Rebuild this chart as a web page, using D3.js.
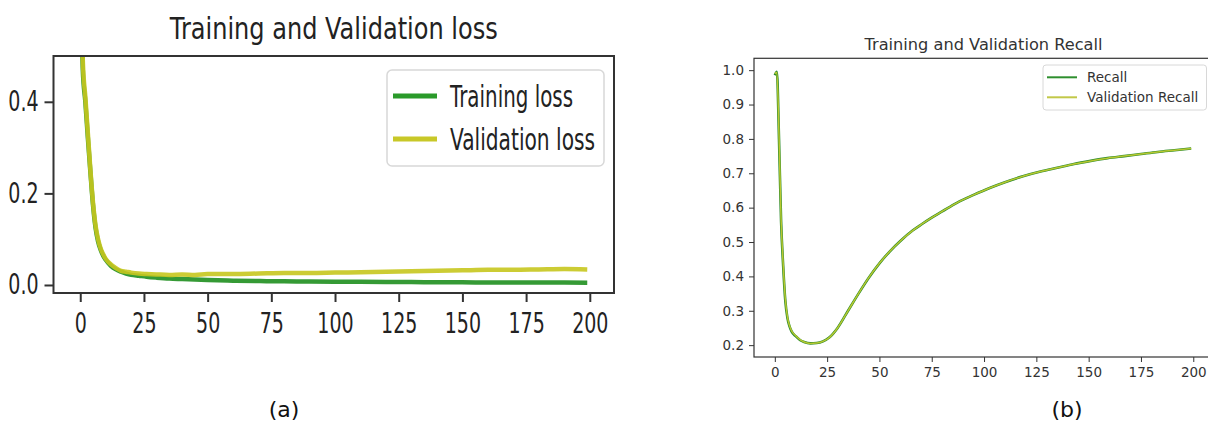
<html lang="en">
<head>
  <script src="https://d3js.org/d3.v7.min.js"></script>
  <style>
    body { margin: 0; background: white; }
    text { font-family: "DejaVu Sans", sans-serif; }
  </style>
</head>
<body>
  <svg id="fig" width="1208" height="425" style="background: white"></svg>
  <script>
    // loss chart (a)
    const lossEpochs = [0,1,2,3,4,5,6,7,8,9,10,12,14,16,18,20,23,26,30,35,40,45,50,60,70,80,90,100,110,120,130,140,150,160,170,180,190,199];
    const trainLoss  = [0.80,0.47,0.40,0.32,0.245,0.175,0.125,0.095,0.077,0.064,0.055,0.042,0.034,0.029,0.025,0.022,0.020,0.018,0.016,0.014,0.013,0.012,0.011,0.0095,0.0085,0.008,0.0075,0.007,0.0068,0.0065,0.0063,0.006,0.0058,0.0056,0.0055,0.0053,0.0052,0.005];
    const valLoss    = [0.78,0.49,0.41,0.33,0.25,0.18,0.13,0.10,0.08,0.067,0.057,0.045,0.037,0.031,0.029,0.027,0.025,0.024,0.023,0.022,0.023,0.022,0.024,0.024,0.025,0.026,0.026,0.027,0.028,0.029,0.030,0.031,0.032,0.033,0.033,0.034,0.035,0.034];
    const lossXTicks = [0,25,50,75,100,125,150,175,200];
    const lossYTicks = [0.0,0.2,0.4];

    // recall chart (b)
    const recallEpochs = [0,1,2,3,4,5,6,7,8,10,12,14,17,20,23,26,30,35,40,45,50,55,60,66,70,75,80,87,95,103,110,119,127,135,143,151,159,167,175,183,191,199];
    const recall       = [0.985,0.995,0.80,0.56,0.43,0.33,0.28,0.255,0.24,0.226,0.215,0.209,0.205,0.206,0.211,0.222,0.25,0.30,0.35,0.397,0.438,0.473,0.503,0.534,0.551,0.571,0.589,0.614,0.637,0.658,0.674,0.692,0.705,0.716,0.727,0.736,0.744,0.750,0.756,0.762,0.767,0.772];
    const valRecall    = [0.99,0.993,0.81,0.565,0.435,0.335,0.283,0.257,0.242,0.227,0.216,0.209,0.205,0.206,0.211,0.222,0.25,0.30,0.35,0.397,0.438,0.473,0.503,0.534,0.551,0.571,0.589,0.614,0.637,0.658,0.674,0.692,0.705,0.716,0.727,0.736,0.744,0.750,0.756,0.762,0.767,0.772];
    const recallXTicks = [0,25,50,75,100,125,150,175,200];
    const recallYTicks = [0.2,0.3,0.4,0.5,0.6,0.7,0.8,0.9,1.0];

    const svg = d3.select("#fig");

    // ---------- (a) ----------
    const a = { left: 53.5, right: 614, top: 56, bottom: 293 };
    const ax = d3.scaleLinear().domain([-10.5, 209.5]).range([a.left, a.right]);
    const ay = d3.scaleLinear().domain([-0.0175, 0.5]).range([a.bottom, a.top]);
    const squeeze = 0.68;

    svg.append("clipPath").attr("id", "clipA")
      .append("rect").attr("x", a.left).attr("y", a.top)
      .attr("width", a.right - a.left).attr("height", a.bottom - a.top);

    const lineA = (ys) => d3.line()
      .x((d, i) => ax(lossEpochs[i]))
      .y(d => ay(d))
      .curve(d3.curveMonotoneX)(ys);

    const plotA = svg.append("g").attr("clip-path", "url(#clipA)");
    plotA.append("path").attr("d", lineA(trainLoss))
      .attr("fill", "none").attr("stroke", "#1f8f1f").attr("stroke-width", 4.5).attr("opacity", 0.9);
    plotA.append("path").attr("d", lineA(valLoss))
      .attr("fill", "none").attr("stroke", "#c6c61e").attr("stroke-width", 4.5).attr("opacity", 0.9);

    const axA = svg.append("g").attr("transform", "translate(0," + a.bottom + ")")
      .call(d3.axisBottom(ax).tickValues(lossXTicks).tickSize(9).tickPadding(11).tickFormat(d3.format("d")));
    const ayA = svg.append("g").attr("transform", "translate(" + a.left + ",0)")
      .call(d3.axisLeft(ay).tickValues(lossYTicks).tickSize(9).tickFormat(d3.format(".1f")));
    [axA, ayA].forEach(g => {
      g.select(".domain").remove();
      g.selectAll("line").attr("stroke", "#333").attr("stroke-width", 2);
      g.selectAll("text").attr("font-size", 28).attr("fill", "#222")
        .attr("font-family", "DejaVu Sans").attr("transform", "scale(" + squeeze + ",1)");
    });
    ayA.selectAll("text").attr("x", -22);

    svg.append("rect").attr("x", a.left).attr("y", a.top)
      .attr("width", a.right - a.left).attr("height", a.bottom - a.top)
      .attr("fill", "none").attr("stroke", "#333").attr("stroke-width", 2);

    svg.append("text").attr("x", (a.left + a.right) / 2).attr("y", 39)
      .attr("text-anchor", "middle").attr("font-size", 31).attr("fill", "#222")
      .attr("textLength", 328).attr("lengthAdjust", "spacingAndGlyphs")
      .text("Training and Validation loss");

    const legA = svg.append("g");
    legA.append("rect").attr("x", 387).attr("y", 70).attr("width", 217).attr("height", 96)
      .attr("rx", 5).attr("fill", "white").attr("stroke", "#d8d8d8").attr("stroke-width", 1.5);
    [["Training loss", "#2a9a2a", 96, 123], ["Validation loss", "#c8c828", 139, 145]].forEach(([t, c, y, w]) => {
      legA.append("line").attr("x1", 393).attr("x2", 437).attr("y1", y).attr("y2", y)
        .attr("stroke", c).attr("stroke-width", 5);
      legA.append("text").attr("x", 450).attr("y", y + 11).attr("font-size", 30).attr("fill", "#222")
        .attr("textLength", w).attr("lengthAdjust", "spacingAndGlyphs").text(t);
    });

    // ---------- (b) ----------
    const b = { left: 754, right: 1212, top: 58.3, bottom: 357 };
    const bx = d3.scaleLinear().domain([-9.95, 208.95]).range([b.left, b.right]);
    const by = d3.scaleLinear().domain([0.1655, 1.0345]).range([b.bottom, b.top]);

    const lineB = (ys) => d3.line()
      .x((d, i) => bx(recallEpochs[i]))
      .y(d => by(d))
      .curve(d3.curveMonotoneX)(ys);

    svg.append("path").attr("d", lineB(recall))
      .attr("fill", "none").attr("stroke", "#2a8a2a").attr("stroke-width", 2.6);
    svg.append("path").attr("d", lineB(valRecall))
      .attr("fill", "none").attr("stroke", "#b8c830").attr("stroke-width", 1.5);

    const bxA = svg.append("g").attr("transform", "translate(0," + b.bottom + ")")
      .call(d3.axisBottom(bx).tickValues(recallXTicks).tickSize(5).tickPadding(5).tickFormat(d3.format("d")));
    const byA = svg.append("g").attr("transform", "translate(" + b.left + ",0)")
      .call(d3.axisLeft(by).tickValues(recallYTicks).tickSize(5).tickPadding(5).tickFormat(d3.format(".1f")));
    [bxA, byA].forEach(g => {
      g.select(".domain").remove();
      g.selectAll("line").attr("stroke", "#333").attr("stroke-width", 1);
      g.selectAll("text").attr("font-size", 13.5).attr("fill", "#333").attr("font-family", "DejaVu Sans");
    });

    svg.append("rect").attr("x", b.left).attr("y", b.top)
      .attr("width", b.right - b.left).attr("height", b.bottom - b.top)
      .attr("fill", "none").attr("stroke", "#333").attr("stroke-width", 1.2);

    svg.append("text").attr("x", 983.5).attr("y", 50)
      .attr("text-anchor", "middle").attr("font-size", 16.2).attr("fill", "#333")
      .text("Training and Validation Recall");

    const legB = svg.append("g");
    legB.append("rect").attr("x", 1043).attr("y", 65).attr("width", 163.5).attr("height", 45)
      .attr("rx", 3).attr("fill", "white").attr("stroke", "#d8d8d8").attr("stroke-width", 1);
    [["Recall", "#2e8f2e", 77.3], ["Validation Recall", "#c2c848", 97.3]].forEach(([t, c, y]) => {
      legB.append("line").attr("x1", 1047).attr("x2", 1077).attr("y1", y).attr("y2", y)
        .attr("stroke", c).attr("stroke-width", 2);
      legB.append("text").attr("x", 1087).attr("y", y + 5).attr("font-size", 13.5).attr("fill", "#333").text(t);
    });

    // panel captions
    svg.append("text").attr("x", 284).attr("y", 417).attr("text-anchor", "middle")
      .attr("font-family", "Open Sans").attr("font-size", 22).attr("fill", "#111").text("(a)");
    svg.append("text").attr("x", 1067).attr("y", 417).attr("text-anchor", "middle")
      .attr("font-family", "Open Sans").attr("font-size", 22).attr("fill", "#111").text("(b)");
  </script>
</body>
</html>
